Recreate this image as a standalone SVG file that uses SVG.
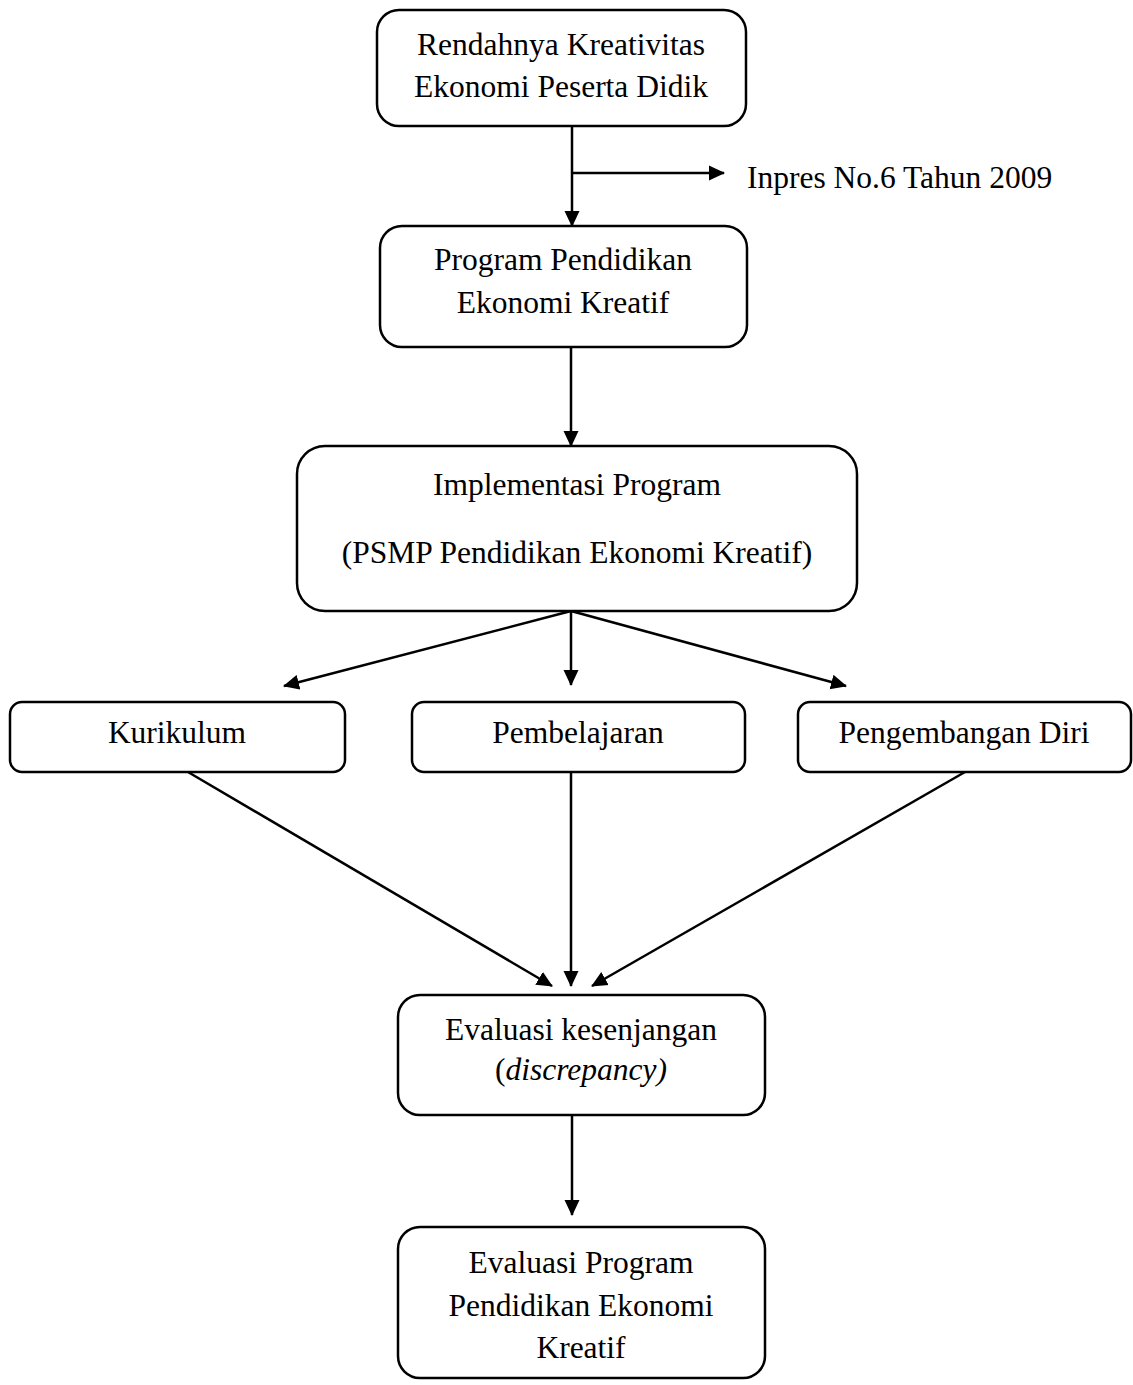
<svg xmlns="http://www.w3.org/2000/svg" width="1133" height="1385" viewBox="0 0 1133 1385">
<style>
.box{fill:#fff;stroke:#000;stroke-width:2.5}
.t{font-family:"Liberation Serif","Times New Roman",serif;font-size:31.5px;fill:#000;text-anchor:middle}
.c{stroke:#000;stroke-width:2.5;fill:none}
</style>
<defs>
<marker id="ah" markerWidth="16" markerHeight="16" refX="15" refY="8" orient="auto" markerUnits="userSpaceOnUse">
<path d="M0,0.5 L16,8 L0,15.5 Z" fill="#000"/>
</marker>
</defs>
<rect width="1133" height="1385" fill="#fff"/>
<g id="connectors">
<line class="c" x1="572" y1="126" x2="572" y2="226" marker-end="url(#ah)"/>
<line class="c" x1="572" y1="173" x2="724" y2="173" marker-end="url(#ah)"/>
<line class="c" x1="571" y1="347" x2="571" y2="446" marker-end="url(#ah)"/>
<line class="c" x1="571" y1="611" x2="284" y2="686" marker-end="url(#ah)"/>
<line class="c" x1="571" y1="611" x2="571" y2="685" marker-end="url(#ah)"/>
<line class="c" x1="571" y1="611" x2="846" y2="686" marker-end="url(#ah)"/>
<line class="c" x1="188" y1="772" x2="552" y2="986" marker-end="url(#ah)"/>
<line class="c" x1="571" y1="772" x2="571" y2="986" marker-end="url(#ah)"/>
<line class="c" x1="965" y1="772" x2="592" y2="986" marker-end="url(#ah)"/>
<line class="c" x1="572" y1="1115" x2="572" y2="1215" marker-end="url(#ah)"/>
</g>
<g id="n1"><rect class="box" x="377" y="10" width="369" height="116" rx="22"/>
<text class="t" x="561" y="55">Rendahnya Kreativitas</text>
<text class="t" x="561" y="97">Ekonomi Peserta Didik</text></g>
<g id="inpres"><text class="t" x="747" y="188" style="text-anchor:start">Inpres No.6 Tahun 2009</text></g>
<g id="n2"><rect class="box" x="380" y="226" width="367" height="121" rx="22"/>
<text class="t" x="563" y="270">Program Pendidikan</text>
<text class="t" x="563" y="313">Ekonomi Kreatif</text></g>
<g id="n3"><rect class="box" x="297" y="446" width="560" height="165" rx="28"/>
<text class="t" x="577" y="495">Implementasi Program</text>
<text class="t" x="577" y="563">(PSMP Pendidikan Ekonomi Kreatif)</text></g>
<g id="n4"><rect class="box" x="10" y="702" width="335" height="70" rx="12"/>
<text class="t" x="177" y="743">Kurikulum</text></g>
<g id="n5"><rect class="box" x="412" y="702" width="333" height="70" rx="12"/>
<text class="t" x="578" y="743">Pembelajaran</text></g>
<g id="n6"><rect class="box" x="798" y="702" width="333" height="70" rx="12"/>
<text class="t" x="964" y="743">Pengembangan Diri</text></g>
<g id="n7"><rect class="box" x="398" y="995" width="367" height="120" rx="22"/>
<text class="t" x="581" y="1040">Evaluasi kesenjangan</text>
<text class="t" x="581" y="1080">(<tspan font-style="italic">discrepancy)</tspan></text></g>
<g id="n8"><rect class="box" x="398" y="1227" width="367" height="151" rx="22"/>
<text class="t" x="581" y="1273">Evaluasi Program</text>
<text class="t" x="581" y="1316">Pendidikan Ekonomi</text>
<text class="t" x="581" y="1358">Kreatif</text></g>
</svg>
